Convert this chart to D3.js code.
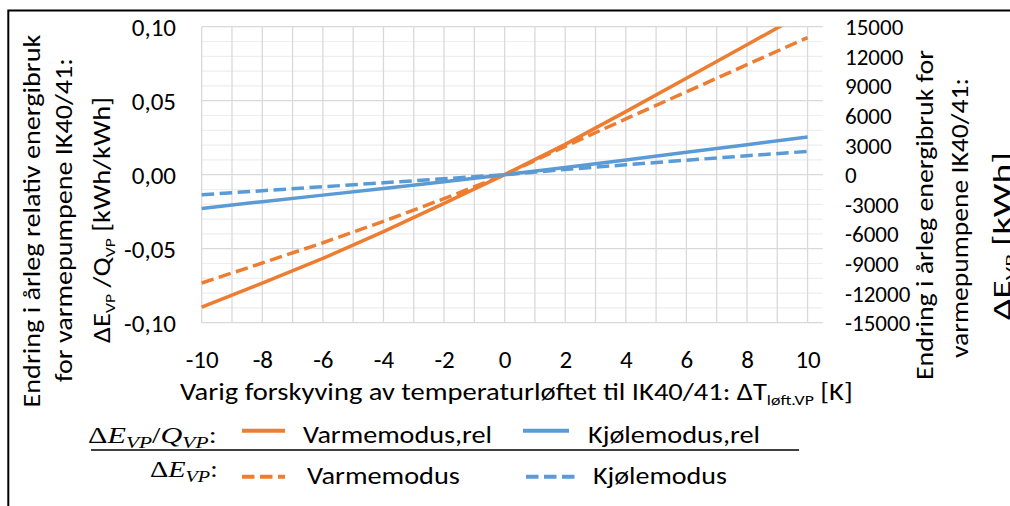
<!DOCTYPE html>
<html>
<head>
<meta charset="utf-8">
<script src="https://cdn.jsdelivr.net/npm/d3@7"></script>
<style>
  html, body { margin: 0; padding: 0; background: #fff; overflow: hidden; }
  svg { display: block; }
</style>
</head>
<body>
<svg id="chart" width="1010" height="506"></svg>
<script>
// Temperature lift shift [K]
const shiftK = [-10, -8, -6, -4, -2, 0, 2, 4, 6, 8, 10];

// Relative change in annual energy use, ΔE_VP / Q_VP [kWh/kWh] (left axis)
const varmeRel = [-0.0895, -0.0733, -0.0566, -0.0384, -0.0194, 0, 0.0205, 0.0426, 0.0652, 0.0878, 0.1105];
const kjoleRel = [-0.0228, -0.0182, -0.0138, -0.0094, -0.0048, 0, 0.0048, 0.0099, 0.0151, 0.0203, 0.0255];

// Change in annual energy use, ΔE_VP [kWh] (right axis)
const varmeKWh = [-10980, -8950, -6900, -4730, -2430, 0, 2870, 5650, 8400, 11150, 13900];
const kjoleKWh = [-2030, -1620, -1220, -820, -410, 0, 530, 1000, 1470, 1920, 2360];

// Tick values
const xTicks = [-10, -8, -6, -4, -2, 0, 2, 4, 6, 8, 10];
const yLeftTicks = [-0.10, -0.05, 0, 0.05, 0.10];
const yRightTicks = [-15000, -12000, -9000, -6000, -3000, 0, 3000, 6000, 9000, 12000, 15000];

const ORANGE = "#ed7d31";
const BLUE = "#5b9bd5";
const FONT = "Carlito, Calibri, Lato, sans-serif";
const MATH = "'Liberation Serif', 'DejaVu Serif', serif";

const svg = d3.select("#chart");
svg.append("rect").attr("width", 1010).attr("height", 506).attr("fill", "#fff");

const plot = { left: 201.7, right: 822.7, top: 26.7, bottom: 322.7 };

const x = d3.scaleLinear().domain([-10, 10.5]).range([plot.left, plot.right]);
const yL = d3.scaleLinear().domain([-0.1, 0.1]).range([plot.bottom, plot.top]);
const yR = d3.scaleLinear().domain([-15000, 15000]).range([plot.bottom, plot.top]);

const nb = d3.formatLocale({ decimal: ",", thousands: "", grouping: [3], currency: ["", ""], minus: "-" });
const fmtL = nb.format(".2f");
const fmtR = nb.format("d");

// Frame
svg.append("path")
  .attr("d", "M8.3,506 L8.3,10.6 L1010,10.6")
  .attr("fill", "none").attr("stroke", "#000").attr("stroke-width", 2);

// Grid
const grid = svg.append("g");
const minorY = d3.range(-10, 11).map(d => d / 100).filter(d => Math.abs(Math.round(d * 100)) % 5 !== 0);
grid.selectAll("line.minor").data(minorY).join("line")
  .attr("class", "minor")
  .attr("x1", plot.left).attr("x2", plot.right)
  .attr("y1", d => yL(d)).attr("y2", d => yL(d))
  .attr("stroke", "#eeeeee").attr("stroke-width", 1.2);
grid.selectAll("line.vx").data(d3.range(-10, 11)).join("line")
  .attr("class", "vx")
  .attr("x1", d => x(d)).attr("x2", d => x(d))
  .attr("y1", plot.top).attr("y2", plot.bottom)
  .attr("stroke", "#d9d9d9").attr("stroke-width", 1.3);
grid.selectAll("line.major").data(yLeftTicks).join("line")
  .attr("class", "major")
  .attr("x1", plot.left).attr("x2", plot.right)
  .attr("y1", d => yL(d)).attr("y2", d => yL(d))
  .attr("stroke", "#d9d9d9").attr("stroke-width", 1.3);

// Axes (labels only)
const axX = svg.append("g").attr("transform", `translate(0,${plot.bottom})`)
  .call(d3.axisBottom(x).tickValues(xTicks).tickSize(0).tickFormat(d => fmtR(d)));
axX.select(".domain").remove();
axX.selectAll("text").attr("y", 45.5).attr("dy", 0)
  .attr("font-family", FONT).attr("font-size", 25).attr("fill", "#000");

const axL = svg.append("g").attr("transform", "translate(176,0)")
  .call(d3.axisLeft(yL).tickValues(yLeftTicks).tickSize(0).tickPadding(0).tickFormat(fmtL));
axL.select(".domain").remove();
axL.selectAll("text").attr("dy", "0.35em")
  .attr("font-family", FONT).attr("font-size", 25).attr("fill", "#000");

const axR = svg.append("g").attr("transform", "translate(845,0)")
  .call(d3.axisRight(yR).tickValues(yRightTicks).tickSize(0).tickPadding(0).tickFormat(fmtR));
axR.select(".domain").remove();
axR.selectAll("text").attr("dy", "0.35em")
  .attr("font-family", FONT).attr("font-size", 23).attr("fill", "#000");

// Series
svg.append("clipPath").attr("id", "plotClip")
  .append("rect").attr("x", plot.left - 3).attr("y", plot.top)
  .attr("width", plot.right - plot.left + 6).attr("height", plot.bottom - plot.top);

const series = [
  { vals: varmeRel, scale: yL, color: ORANGE, dash: null },
  { vals: kjoleRel, scale: yL, color: BLUE, dash: null },
  { vals: varmeKWh, scale: yR, color: ORANGE, dash: "12.5,5.5" },
  { vals: kjoleKWh, scale: yR, color: BLUE, dash: "12.5,5.5" }
];
const lines = svg.append("g").attr("clip-path", "url(#plotClip)");
series.forEach(s => {
  const gen = d3.line().x((d, i) => x(shiftK[i])).y(d => s.scale(d));
  lines.append("path").datum(s.vals)
    .attr("d", gen)
    .attr("fill", "none")
    .attr("stroke", s.color)
    .attr("stroke-width", 3.5)
    .attr("stroke-linejoin", "round")
    .attr("stroke-dasharray", s.dash);
});

// Text placed and stretched along its baseline to a given length
function placeText(opts, build) {
  const g = svg.append("g");
  const t = g.append("text").attr("x", 0).attr("y", 0)
    .attr("font-family", opts.family || FONT)
    .attr("font-size", opts.size).attr("fill", "#000");
  build(t);
  const w = t.node().getComputedTextLength();
  const sx = opts.width ? opts.width / w : 1;
  const off = opts.anchor === "middle" ? -w / 2 : opts.anchor === "end" ? -w : 0;
  g.attr("transform", `translate(${opts.x},${opts.y}) rotate(${opts.rotate || 0}) scale(${sx},1) translate(${off},0)`);
  return g;
}
const sub = (t, s, size, dy) => t.append("tspan").attr("font-size", size).attr("dy", dy).text(s);
const up = (t, s, dy) => t.append("tspan").attr("dy", dy).text(s);

// X axis title
placeText({ x: 180, y: 400, size: 24, width: 673, anchor: "start" }, t => {
  t.append("tspan").text("Varig forskyving av temperaturløftet til IK40/41: ΔT");
  sub(t, "løft.VP", 15, 5);
  up(t, " [K]", -5);
});

// Left axis title
placeText({ x: 40, y: 221, size: 24, width: 373, anchor: "middle", rotate: -90 },
  t => t.text("Endring i årleg relativ energibruk"));
placeText({ x: 72, y: 220, size: 24, width: 324, anchor: "middle", rotate: -90 },
  t => t.text("for varmepumpene IK40/41:"));
placeText({ x: 110, y: 220, size: 24, width: 246, anchor: "middle", rotate: -90 }, t => {
  t.append("tspan").text("ΔE");
  sub(t, "VP", 15, 5);
  up(t, " /Q", -5);
  sub(t, "VP", 15, 5);
  up(t, " [kWh/kWh]", -5);
});

// Right axis title
placeText({ x: 933, y: 215, size: 24, width: 330, anchor: "middle", rotate: -90 },
  t => t.text("Endring i årleg energibruk for"));
placeText({ x: 968, y: 218, size: 24, width: 280, anchor: "middle", rotate: -90 },
  t => t.text("varmepumpene IK40/41:"));
placeText({ x: 1010, y: 236, size: 24, width: 168, anchor: "middle", rotate: -90 }, t => {
  t.append("tspan").text("ΔE");
  sub(t, "VP", 15, 5);
  up(t, " [kWh]", -5);
});

// Legend
const mathLabel = (t, parts) => {
  parts.forEach(p => {
    const ts = t.append("tspan").text(p.s);
    if (p.it) ts.attr("font-style", "italic");
    if (p.sub) ts.attr("font-size", 17).attr("dy", p.dy);
    else if (p.dy) ts.attr("dy", p.dy);
  });
};
placeText({ x: 217, y: 443, size: 24, width: 129, anchor: "end", family: MATH }, t => mathLabel(t, [
  { s: "Δ" }, { s: "E", it: true }, { s: "VP", it: true, sub: true, dy: 5 },
  { s: "/", dy: -5 }, { s: "Q", it: true }, { s: "VP", it: true, sub: true, dy: 5 }, { s: ":", dy: -5 }
]));
placeText({ x: 218, y: 477, size: 24, width: 68, anchor: "end", family: MATH }, t => mathLabel(t, [
  { s: "Δ" }, { s: "E", it: true }, { s: "VP", it: true, sub: true, dy: 5 }, { s: ":", dy: -5 }
]));

svg.append("line").attr("x1", 91).attr("x2", 799).attr("y1", 450).attr("y2", 450)
  .attr("stroke", "#000").attr("stroke-width", 1.5);

const legendItems = [
  { color: ORANGE, dash: null, x1: 242, x2: 285, y: 430.7, label: "Varmemodus,rel", tx: 303, ty: 443, tw: 189 },
  { color: BLUE, dash: null, x1: 523, x2: 569, y: 430.7, label: "Kjølemodus,rel", tx: 588, ty: 443, tw: 172 },
  { color: ORANGE, dash: "12.5,5.5", x1: 242, x2: 285, y: 476.7, label: "Varmemodus", tx: 307, ty: 483.5, tw: 153 },
  { color: BLUE, dash: "12.5,5.5", x1: 526, x2: 575, y: 476.7, label: "Kjølemodus", tx: 593, ty: 483.5, tw: 134 }
];
legendItems.forEach(it => {
  svg.append("line").attr("x1", it.x1).attr("x2", it.x2).attr("y1", it.y).attr("y2", it.y)
    .attr("stroke", it.color).attr("stroke-width", 4).attr("stroke-dasharray", it.dash);
  placeText({ x: it.tx, y: it.ty, size: 25, width: it.tw, anchor: "start" }, t => t.text(it.label));
});
</script>
</body>
</html>
